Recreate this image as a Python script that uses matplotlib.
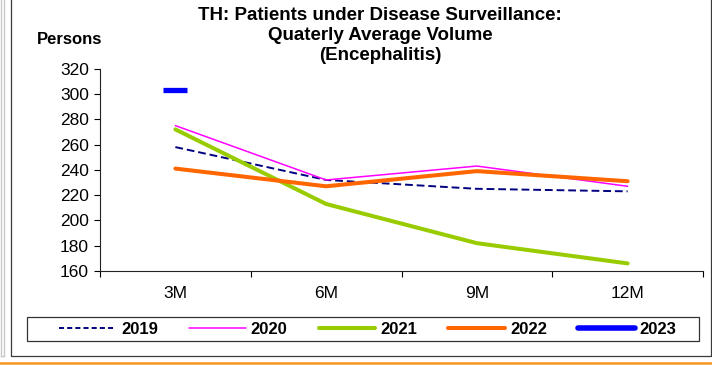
import matplotlib
matplotlib.use("Agg")
import matplotlib.pyplot as plt
from matplotlib.lines import Line2D
from matplotlib.patches import Rectangle

plt.rcParams['font.family'] = ['Liberation Sans', 'DejaVu Sans']

# Quarterly average volume of patients under surveillance (encephalitis)
categories = ["3M", "6M", "9M", "12M"]
years = ["2019", "2020", "2021", "2022", "2023"]
v2019 = [258, 232, 225, 223]
v2020 = [275, 232, 243, 227]
v2021 = [272, 213, 182, 166]
v2022 = [241, 227, 239, 231]
v2023 = [303]
y_ticks = [160, 180, 200, 220, 240, 260, 280, 300, 320]

W, H = 712, 365
fig = plt.figure(figsize=(W / 100, H / 100), dpi=100)

def fx(px):
    return px / W

def fy(py):
    return 1 - py / H

# Outer frame decorations
fig.add_artist(Line2D([fx(1), fx(1)], [fy(0), fy(356)], color='#c8c8c8', lw=1.0))
fig.add_artist(Line2D([fx(3.5), fx(3.5)], [fy(0), fy(356)], color='#c8c8c8', lw=1.0))
fig.add_artist(Line2D([fx(1), fx(3.5)], [fy(356), fy(356)], color='#c8c8c8', lw=1.0))
fig.add_artist(Line2D([fx(10.5), fx(10.5), fx(710.5), fx(710.5)],
                      [fy(-2), fy(355.5), fy(355.5), fy(-2)], color='#3a3a3a', lw=0.9))
fig.add_artist(Line2D([0, 1], [fy(363), fy(363)], color='#f7941d', lw=1.8))

ax = fig.add_axes([fx(100), fy(271), fx(703) - fx(100), fy(68.7) - fy(271)])
x = list(range(1, len(categories) + 1))

styles = [
    (v2019, dict(color='#000080', lw=1.4), (0, (4.0, 2.0)), (0, (2.6, 1.6))),
    (v2020, dict(color='#ff00ff', lw=1.1), '-', '-'),
    (v2021, dict(color='#99cc00', lw=2.9), '-', '-'),
    (v2022, dict(color='#ff6600', lw=2.9), '-', '-'),
]
handles = []
for vals, st, ls_plot, ls_leg in styles:
    ax.plot(x[:len(vals)], vals, ls=ls_plot, solid_capstyle='round',
            solid_joinstyle='round', dash_capstyle='butt', **st)
    handles.append(Line2D([], [], ls=ls_leg, solid_capstyle='round', **st))

ax.plot(x[:len(v2023)], v2023, ls='none', marker='_', color='#0000ff',
        markersize=17, markeredgewidth=3.8)
handles.append(Line2D([], [], color='#0000ff', lw=4.0, solid_capstyle='round'))

ax.set_xlim(0.5, len(categories) + 0.5)
ax.set_ylim(y_ticks[0], y_ticks[-1])
ax.set_yticks(y_ticks)
ax.set_yticklabels([str(t) for t in y_ticks], fontsize=12.5)
ax.set_xticks([i + 0.5 for i in range(0, len(categories) + 1)])
ax.set_xticklabels([])
ax.set_xticks(x, minor=True)
ax.set_xticklabels(categories, minor=True, fontsize=12.5)
ax.tick_params(axis='x', which='minor', length=0, pad=11)
ax.tick_params(axis='x', which='major', direction='out', length=4, width=0.8)
ax.tick_params(axis='y', direction='out', length=4, width=0.8, pad=4)
for s in ('top', 'right'):
    ax.spines[s].set_visible(False)
for s in ('left', 'bottom'):
    ax.spines[s].set_linewidth(0.8)
    ax.spines[s].set_color('#222222')

title_lines = ["TH: Patients under Disease Surveillance:",
               "Quaterly Average Volume",
               "(Encephalitis)"]
for i, line in enumerate(title_lines):
    fig.text(fx(380), fy(15 + 20 * i), line, ha='center', va='center',
             fontsize=13.5, fontweight='bold')
fig.text(fx(70), fy(39), "Persons", ha='center', va='center', fontsize=12, fontweight='bold')

# Legend box drawn separately, entries placed inside it
fig.add_artist(Rectangle((fx(27), fy(341)), fx(699) - fx(27), fy(317) - fy(341),
                         fill=False, edgecolor='#333333', lw=0.9))
leg = fig.legend(handles, years, loc='center', bbox_to_anchor=(fx(368), fy(329)),
                 ncol=5, frameon=False, prop=dict(weight='bold', size=12),
                 handlelength=3.4, handletextpad=0.3, columnspacing=1.87,
                 borderpad=0, borderaxespad=0)

fig.savefig("out.png", dpi=100)
